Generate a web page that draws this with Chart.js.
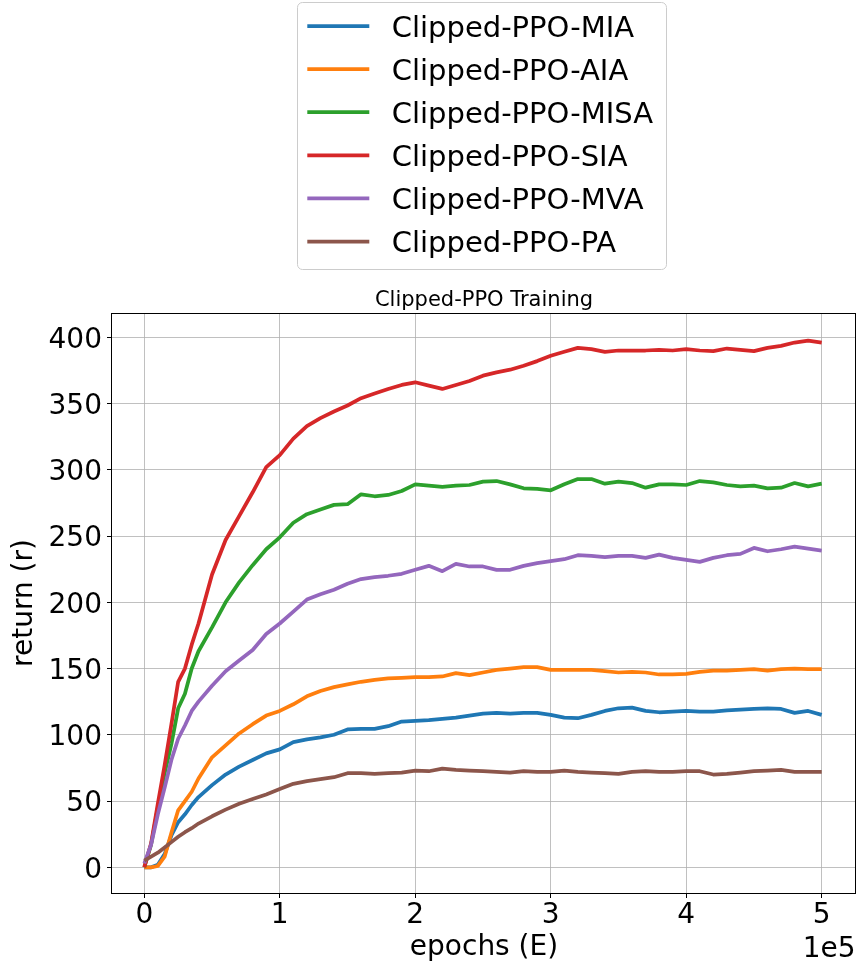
<!DOCTYPE html>
<html lang="en">
<head>
<meta charset="UTF-8">
<title>Clipped-PPO Training</title>
<script src="https://cdn.jsdelivr.net/npm/chart.js"></script>
<style>
  html, body { margin: 0; padding: 0; background: #fff; }
  #wrap { width: 858px; height: 967px; position: relative; }
</style>
</head>
<body>
<div id="wrap"><canvas id="trainChart"></canvas></div>
<script>
// epochs in units of 1e5 (shown as offset text "1e5")
const epochs = [0, 0.05, 0.1, 0.15, 0.2, 0.25, 0.3, 0.35, 0.4,
  0.5, 0.6, 0.7, 0.8, 0.9, 1.0, 1.1, 1.2, 1.3, 1.4, 1.5, 1.6, 1.7, 1.8, 1.9,
  2.0, 2.1, 2.2, 2.3, 2.4, 2.5, 2.6, 2.7, 2.8, 2.9, 3.0, 3.1, 3.2, 3.3, 3.4,
  3.5, 3.6, 3.7, 3.8, 3.9, 4.0, 4.1, 4.2, 4.3, 4.4, 4.5, 4.6, 4.7, 4.8, 4.9, 5.0];

const returnMIA = [0, 0, 2, 10, 24, 34, 40, 47, 53,
  62, 70, 76, 81, 86, 89, 94.5, 96.5, 98, 100, 104, 104.5, 104.5, 106.5, 110,
  110.5, 111, 112, 113, 114.5, 116, 116.5, 116, 116.5, 116.5, 115, 113, 112.5, 115, 118,
  120, 120.5, 118, 117, 117.5, 118, 117.5, 117.5, 118.5, 119, 119.5, 120, 119.5, 116.5, 118, 115];

const returnAIA = [0, 0, 1, 8, 26, 43, 50, 57, 67,
  83, 92, 101, 108, 114.5, 118, 123, 129, 133, 136, 138, 140, 141.5, 142.5, 143,
  143.5, 143.5, 144, 146.5, 145, 147, 149, 150, 151, 151, 149, 149, 149, 149, 148,
  147, 147.5, 147, 145.5, 145.5, 146, 147.5, 148.5, 148.5, 149, 149.5, 148.5, 149.5, 150, 149.5, 149.5];

const returnMISA = [0, 17, 45, 71, 93, 120, 131, 150, 163,
  181, 200, 215, 228, 240, 249, 260, 266.5, 270, 273.5, 274, 281.5, 280, 281, 284,
  289, 288, 287, 288, 288.5, 291, 291.5, 289, 286, 285.5, 284.5, 289, 293, 293, 289.5,
  291, 290, 286.5, 289, 289, 288.5, 291.5, 290.5, 288.5, 287.5, 288, 286, 286.5, 290, 287.5, 289.5];

const returnSIA = [0, 18, 48, 77, 108, 140, 150, 168, 184,
  221, 247, 265, 283, 302, 311, 323.5, 333, 339, 344, 348.5, 354, 357.5, 361, 364,
  366, 363.5, 361, 364, 367, 371, 373.5, 375.5, 378.5, 382, 386, 389, 392, 391, 389,
  390, 390, 390, 390.5, 390, 391, 390, 389.5, 391.5, 390.5, 389.5, 392, 393.5, 396, 397.5, 396];

const returnMVA = [3, 17, 40, 60, 81, 97, 107, 118, 125,
  137, 148, 156, 164, 176, 184, 193, 202, 206, 209.5, 214, 217.5, 219, 220, 221.5,
  224.5, 227.5, 223.5, 229, 227, 227, 224.5, 224.5, 227.5, 229.5, 231, 232.5, 235.5, 235, 234,
  235, 235, 233.5, 236, 233.5, 232, 230.5, 233.5, 235.5, 236.5, 241, 238.5, 240, 242, 240.5, 239];

const returnPA = [5, 8, 11, 15, 19, 23, 26.5, 29.5, 33,
  38.5, 43.5, 48, 51.5, 55, 59, 63, 65, 66.5, 68, 71, 71, 70.5, 71, 71.5,
  73, 72.5, 74.5, 73.5, 73, 72.5, 72, 71.5, 72.5, 72, 72, 73, 72, 71.5, 71,
  70.5, 72, 72.5, 72, 72, 72.5, 72.5, 70, 70.5, 71.5, 72.5, 73, 73.5, 72, 72, 72];

const seriesNames = ['Clipped-PPO-MIA', 'Clipped-PPO-AIA', 'Clipped-PPO-MISA',
  'Clipped-PPO-SIA', 'Clipped-PPO-MVA', 'Clipped-PPO-PA'];
const seriesValues = [returnMIA, returnAIA, returnMISA, returnSIA, returnMVA, returnPA];
const seriesColors = ['#1f77b4', '#ff7f0e', '#2ca02c', '#d62728', '#9467bd', '#8c564b'];

const xTicks = [0, 1, 2, 3, 4, 5];
const yTicks = [0, 50, 100, 150, 200, 250, 300, 350, 400];

const chartTitle = 'Clipped-PPO Training';
const FONT = "'DejaVu Sans', sans-serif";

// axes frame, title over the axes, boxed legend and the x offset text, like matplotlib
const frameAndLegend = {
    id: 'frameAndLegend',
    afterDraw(chart) {
        const { ctx, chartArea: a } = chart;
        ctx.save();
        ctx.strokeStyle = '#000';
        ctx.lineWidth = 1;
        ctx.strokeRect(a.left - 0.5, a.top + 0.5, a.right - a.left, a.bottom - a.top);

        // title, centred on the axes
        ctx.font = '21px ' + FONT;
        ctx.fillStyle = '#000';
        ctx.textAlign = 'center';
        ctx.textBaseline = 'alphabetic';
        ctx.fillText(chartTitle, (a.left + a.right) / 2, 305.5);

        // legend box
        const lx = 297.5, ly = 2.5, lw = 369, lh = 267, r = 5;
        ctx.beginPath();
        ctx.moveTo(lx + r, ly);
        ctx.lineTo(lx + lw - r, ly);
        ctx.arcTo(lx + lw, ly, lx + lw, ly + r, r);
        ctx.lineTo(lx + lw, ly + lh - r);
        ctx.arcTo(lx + lw, ly + lh, lx + lw - r, ly + lh, r);
        ctx.lineTo(lx + r, ly + lh);
        ctx.arcTo(lx, ly + lh, lx, ly + lh - r, r);
        ctx.lineTo(lx, ly + r);
        ctx.arcTo(lx, ly, lx + r, ly, r);
        ctx.closePath();
        ctx.fillStyle = 'rgba(255,255,255,0.8)';
        ctx.fill();
        ctx.strokeStyle = '#cccccc';
        ctx.stroke();

        ctx.font = '29px ' + FONT;
        ctx.textAlign = 'left';
        chart.data.datasets.forEach((ds, i) => {
            const y = 26 + i * 43.1;
            ctx.beginPath();
            ctx.moveTo(307.3, y);
            ctx.lineTo(369.3, y);
            ctx.strokeStyle = ds.borderColor;
            ctx.lineWidth = 3.75;
            ctx.stroke();
            ctx.fillStyle = '#000';
            ctx.fillText(ds.label, 391.7, y + 10.5);
        });

        // offset text of the x axis
        ctx.font = '28px ' + FONT;
        ctx.textAlign = 'right';
        ctx.fillStyle = '#000';
        ctx.fillText('1e5', 855.5, 957);
        ctx.restore();
    }
};

const ctx = document.getElementById('trainChart').getContext('2d');
new Chart(ctx, {
    type: 'line',
    data: {
        datasets: seriesNames.map((name, i) => ({
            label: name,
            data: epochs.map((x, j) => ({ x: x, y: seriesValues[i][j] })),
            borderColor: seriesColors[i],
            backgroundColor: seriesColors[i],
            borderWidth: 3.75,
            borderJoinStyle: 'round',
            pointRadius: 0,
            tension: 0,
            fill: false,
            order: seriesNames.length - i
        }))
    },
    options: {
        responsive: true,
        maintainAspectRatio: false,
        animation: false,
        events: [],
        devicePixelRatio: 1,
        layout: { padding: { top: 313, right: 2, left: 0, bottom: 0 } },
        plugins: {
            legend: { display: false },
            tooltip: { enabled: false },
            title: { display: false }
        },
        scales: {
            x: {
                type: 'linear',
                min: -0.2384,
                max: 5.2532,
                afterBuildTicks: (s) => { s.ticks = xTicks.map(v => ({ value: v })); },
                afterFit: (s) => { s.height = 74; },
                ticks: {
                    color: '#000',
                    font: { family: FONT, size: 28 },
                    padding: 1,
                    maxRotation: 0,
                    autoSkip: false,
                    callback: (v) => String(v)
                },
                grid: { color: '#b0b0b0', lineWidth: 0.8, tickColor: '#000', tickLength: 5, tickWidth: 1 },
                border: { display: false },
                title: {
                    display: true,
                    text: 'epochs (E)',
                    color: '#000',
                    font: { family: FONT, size: 28, lineHeight: 1.2 },
                    padding: { top: 0, bottom: 2.5 }
                }
            },
            y: {
                type: 'linear',
                min: -19.4,
                max: 418.3,
                afterBuildTicks: (s) => { s.ticks = yTicks.map(v => ({ value: v })); },
                afterFit: (s) => { s.width = 112; },
                ticks: {
                    color: '#000',
                    font: { family: FONT, size: 28 },
                    padding: 5,
                    labelOffset: 3,
                    autoSkip: false,
                    callback: (v) => String(v)
                },
                grid: { color: '#b0b0b0', lineWidth: 0.8, tickColor: '#000', tickLength: 5, tickWidth: 1 },
                border: { display: false },
                title: {
                    display: true,
                    text: 'return (r)',
                    color: '#000',
                    font: { family: FONT, size: 28, lineHeight: 1.2 },
                    padding: { top: 8, bottom: 0 }
                }
            }
        }
    },
    plugins: [frameAndLegend]
});
</script>
</body>
</html>
